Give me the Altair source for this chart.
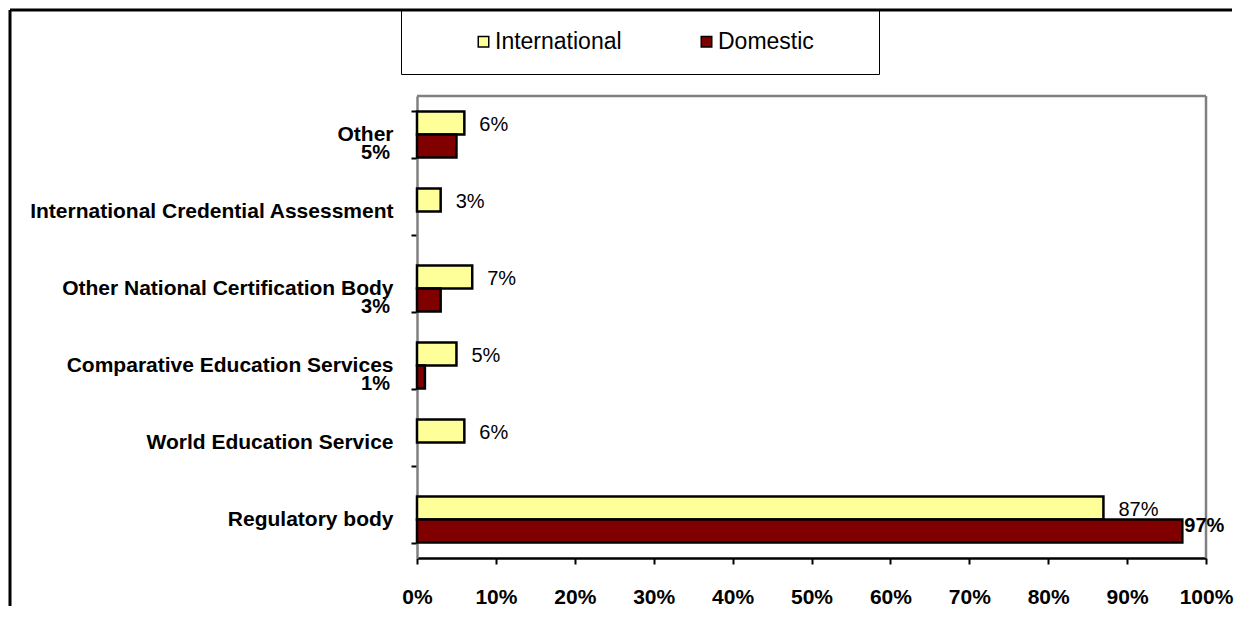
import altair as alt
import pandas as pd

categories = [
    "Other",
    "International Credential Assessment",
    "Other National Certification Body",
    "Comparative Education Services",
    "World Education Service",
    "Regulatory body",
]
series_names = ["International", "Domestic"]
international = [6, 3, 7, 5, 6, 87]
domestic = [5, None, 3, 1, None, 97]
x_ticks = [0, 10, 20, 30, 40, 50, 60, 70, 80, 90, 100]

rows = []
for c, i, d in zip(categories, international, domestic):
    rows.append({"category": c, "series": "International", "value": i})
    if d is not None:
        rows.append({"category": c, "series": "Domestic", "value": d})
df = pd.DataFrame(rows)

W, H = 789, 462
FONT = "Liberation Sans"

y_enc = alt.Y(
    "category:N",
    sort=categories,
    scale=alt.Scale(paddingInner=0.4, paddingOuter=0.2),
    axis=alt.Axis(
        title=None,
        labelFont=FONT,
        labelFontSize=21,
        labelFontWeight="bold",
        labelColor="black",
        labelLimit=600,
        labelPadding=18,
        tickSize=6,
        tickColor="black",
        tickWidth=2,
        tickBand="extent",
        domainColor="#808080",
        domainWidth=2.5,
    ),
)
yoff = alt.YOffset("series:N", sort=series_names)
x_enc = alt.X(
    "value:Q",
    scale=alt.Scale(domain=[0, 100], nice=False),
    axis=alt.Axis(
        title=None,
        values=x_ticks,
        labelExpr="datum.value + '%'",
        labelFont=FONT,
        labelFontSize=21,
        labelFontWeight="bold",
        labelColor="black",
        labelPadding=22,
        labelFlush=False,
        labelOverlap=False,
        tickSize=6,
        tickColor="black",
        tickWidth=2,
        domainColor="black",
        domainWidth=2.5,
        grid=False,
    ),
)

base = alt.Chart(df)

bars = base.mark_bar(stroke="black", strokeWidth=2.5).encode(
    y=y_enc,
    yOffset=yoff,
    x=x_enc,
    color=alt.Color(
        "series:N",
        sort=series_names,
        scale=alt.Scale(domain=series_names, range=["#FFFF99", "#800000"]),
        legend=alt.Legend(
            title=".",
            titleOrient="right",
            titleOpacity=0,
            titleFontSize=8,
            titlePadding=42,
            orient="none",
            legendX=-16,
            legendY=-86,
            direction="horizontal",
            strokeColor="black",
            padding=20,
            symbolType="square",
            symbolSize=110,
            symbolStrokeColor="black",
            symbolStrokeWidth=1.5,
            symbolOffset=51,
            columnPadding=22,
            labelFont=FONT,
            labelFontSize=23,
            labelColor="black",
            labelOffset=0,
        ),
    ),
)

intl_labels = base.transform_filter("datum.series == 'International'").mark_text(
    align="left", baseline="middle", dx=15, dy=2, font=FONT, fontSize=20, color="black"
).encode(
    y=alt.Y("category:N", sort=categories),
    yOffset=yoff,
    x=alt.X("value:Q"),
    text=alt.Text("label:N"),
).transform_calculate(label="datum.value + '%'")

dom_big = base.transform_filter("datum.series == 'Domestic' && datum.value >= 50").mark_text(
    align="left", baseline="middle", dx=2, dy=-5, font=FONT, fontSize=20, fontWeight="bold", color="black"
).encode(
    y=alt.Y("category:N", sort=categories),
    yOffset=yoff,
    x=alt.X("value:Q"),
    text=alt.Text("label:N"),
).transform_calculate(label="datum.value + '%'")

dom_small = base.transform_filter("datum.series == 'Domestic' && datum.value < 50").mark_text(
    align="right", baseline="middle", dx=-27, dy=7, font=FONT, fontSize=20, fontWeight="bold", color="black"
).encode(
    y=alt.Y("category:N", sort=categories),
    yOffset=yoff,
    x=alt.value(0),
    text=alt.Text("label:N"),
).transform_calculate(label="datum.value + '%'")

one = pd.DataFrame({"a": [0]})
plot_top = alt.Chart(one).mark_rule(color="#808080", strokeWidth=2.5).encode(
    x=alt.value(0), x2=alt.value(W), y=alt.value(0)
)
plot_right = alt.Chart(one).mark_rule(color="#808080", strokeWidth=2.5).encode(
    x=alt.value(W), y=alt.value(0), y2=alt.value(H)
)
frame_left = alt.Chart(one).mark_rule(color="black", strokeWidth=3).encode(
    x=alt.value(-407), y=alt.value(-86), y2=alt.value(H + 48)
)
frame_top = alt.Chart(one).mark_rule(color="black", strokeWidth=3).encode(
    x=alt.value(-407), x2=alt.value(815), y=alt.value(-86)
)

chart = (
    alt.layer(plot_top, plot_right, bars, intl_labels, dom_big, dom_small, frame_left, frame_top)
    .properties(width=W, height=H, padding=0)
    .configure_view(stroke=None)
    .configure(background="white")
)

chart.save("out.html", embed_options={"renderer": "svg", "actions": False})
